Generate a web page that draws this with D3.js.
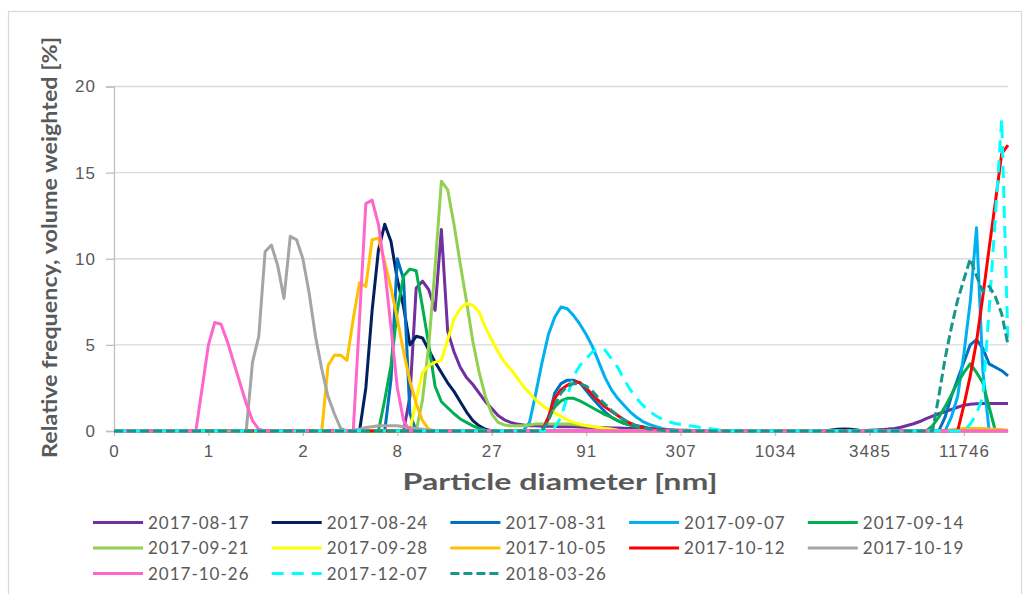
<!DOCTYPE html>
<html><head><meta charset="utf-8">
<script src="https://cdn.jsdelivr.net/npm/d3@7"></script>
<style>
html,body{margin:0;padding:0;background:#fff;}
svg{display:block;font-family:Lato,"Open Sans",sans-serif;}
</style></head><body>
<svg id="chart" width="1030" height="594"></svg>
<script>
// ---------- data ----------
const tickLabels = ["0","1","2","8","27","91","307","1034","3485","11746"];
const binCount = 143;      // size classes (log spaced)
const labelEvery = 15;     // a label every 15 size classes
const yTicks = [0,5,10,15,20];

const seriesNames = ["2017-08-17","2017-08-24","2017-08-31","2017-09-07","2017-09-14",
  "2017-09-21","2017-09-28","2017-10-05","2017-10-12","2017-10-19",
  "2017-10-26","2017-12-07","2018-03-26"];

// each series: [startBin, values...] segments, all other bins are 0
const s20170817 = [[46,[0,2.0,8.3,8.7,8.2,7.0,11.7,5.8,4.6,3.7,3.1,2.7,2.2,1.7,1.3,0.9,0.65,0.5,0.4,0.35,0.3,0.3,0.28,0.27,0.26,0.25,0.25,0.24,0.23,0.22,0.21,0.2,0.19,0.18,0.17,0.16,0.15,0.14,0.12,0.1,0.09,0.08,0.07,0.06,0.05,0.04,0.03,0.02,0.01,0]],
  [117,[0,0.01,0.02,0.04,0.06,0.08,0.11,0.15,0.22,0.32,0.42,0.55,0.72,0.86,1.0,1.12,1.25,1.38,1.5,1.55,1.58,1.6,1.6,1.6,1.6,1.6]]];
const s20170824 = [[39,[0,2.5,7.0,10.5,12.0,11.0,8.8,7.2,5.0,5.5,5.4,4.7,4.0,3.4,2.8,2.3,1.7,1.1,0.6,0.3,0.1,0]],
  [113,[0,0.06,0.1,0.12,0.1,0.06,0]]];
const s20170831 = [[43,[0,3.0,10.0,8.8,1.0,0]],
  [68,[0,0.7,2.2,2.75,2.95,2.95,2.8,2.35,1.9,1.5,1.1,0.8,0.6,0.45,0.35,0.3,0.25,0.15,0.1,0.05,0]],
  [131,[0,0.8,2.0,3.0,4.0,5.0,5.3,4.8,3.9,3.7,3.5,3.2]]];
const s20170907 = [[65,[0,0.5,2.2,4.0,5.6,6.6,7.2,7.1,6.7,6.2,5.6,4.9,4.0,3.1,2.4,1.9,1.5,1.1,0.8,0.55,0.38,0.26,0.15,0.08,0.03,0]],
  [132,[0,0.8,2.0,4.5,7.5,11.8,3.5,0]]];
const s20170914 = [[42,[0,1.8,3.8,7.0,9.0,9.4,9.3,7.2,5.0,2.6,1.7,1.35,1.0,0.7,0.5,0.3,0.15,0.05,0]],
  [68,[0,0.8,1.4,1.75,1.9,1.9,1.75,1.55,1.35,1.15,0.95,0.8,0.6,0.45,0.35,0.25,0.15,0.1,0.05,0]],
  [129,[0,0.3,0.8,1.4,2.1,2.8,3.4,3.9,3.4,2.8,1.4,0]]];
const s20170921 = [[48,[0,1.8,5.0,9.5,14.5,14.0,12.0,9.7,7.5,5.2,3.4,2.0,1.0,0.5,0.35,0.3,0.3,0.3,0.35,0.4,0.4,0.4,0.4,0.4,0.4,0.38,0.35,0.3,0.25,0.2,0.15,0.1,0.05,0]]];
const s20170928 = [[47,[0,1.8,3.4,3.8,4.0,4.1,5.3,6.5,7.1,7.4,7.3,6.9,6.0,5.3,4.6,4.0,3.6,3.1,2.6,2.2,1.8,1.5,1.25,1.05,0.85,0.65,0.5,0.4,0.32,0.26,0.2,0.15,0.1,0.05,0]]];
const s20171005 = [[33,[0,3.8,4.4,4.4,4.1,6.5,8.6,8.4,11.1,11.2,9.8,8.3,6.5,4.6,2.9,1.6,0.6,0.1,0]],
  [132,[0,0.08,0.12,0.15,0.15,0.15,0.15,0.12,0.1,0.08,0.05]]];
const s20171012 = [[68,[0,0.8,1.9,2.4,2.65,2.85,2.8,2.5,2.1,1.75,1.4,1.15,0.9,0.65,0.45,0.3,0.2,0.15,0.1,0.08,0.05,0.03,0]],
  [134,[0,1.5,3.2,5.2,7.8,10.6,13.3,16.1,16.6]]];
const s20171019 = [[21,[0,4.0,5.5,10.4,10.8,9.6,7.7,11.3,11.1,10.0,8.0,5.5,3.6,2.0,1.0,0.15,0,0.05,0.1,0.2,0.25,0.3,0.3,0.3,0.3,0.25,0.2,0.15,0.1,0.05,0]]];
const s20171026 = [[13,[0,2.5,5.0,6.3,6.2,5.2,4.0,2.8,1.6,0.6,0.1,0]],
  [38,[0,6.5,13.2,13.4,12.0,9.4,6.0,2.5,0.6,0]]];
const s20171207 = [[69,[0,0.2,0.8,2.0,3.2,3.8,4.2,4.6,4.8,4.7,4.2,3.7,3.0,2.4,1.9,1.5,1.15,0.9,0.7,0.55,0.45,0.38,0.32,0.27,0.22,0.17,0.12,0.07,0.03,0]],
  [135,[0,0.4,1.0,2.0,7.0,12.5,18.1,5.0]]];
const s20180326 = [[68,[0,0.6,1.5,2.2,2.6,2.75,2.75,2.6,2.3,1.9,1.55,1.2,0.9,0.65,0.45,0.3,0.2,0.12,0.08,0.04,0]],
  [130,[0,2.0,4.2,6.0,7.6,8.8,10.0,9.0,8.1,8.4,7.8,6.8,5.0]]];

const seriesSegments = [s20170817,s20170824,s20170831,s20170907,s20170914,s20170921,
  s20170928,s20171005,s20171012,s20171019,s20171026,s20171207,s20180326];

// ---------- styles ----------
const seriesColors = ["#7030A0","#002060","#0070C0","#00B0F0","#00B050","#92D050",
  "#FFFF00","#FFC000","#FF0000","#A5A5A5","#FF66CC","#00FFFF","#17968A"];
const seriesDash = [null,null,null,null,null,null,null,null,null,null,null,"12,8","9,4"];

function expand(segments){
  const arr = new Array(binCount).fill(0);
  segments.forEach(([start, vals]) => vals.forEach((v,k) => { arr[start+k] = v; }));
  return arr;
}
const series = seriesSegments.map(expand);

const svg = d3.select("#chart");
const textColor = "#595959";

// outer frame
svg.append("rect").attr("x",8.5).attr("y",11.5).attr("width",1013).attr("height",600)
  .attr("fill","#fff").attr("stroke","#d9d9d9").attr("stroke-width",1.2);

const x = d3.scaleLinear().domain([0, binCount-1]).range([114, 1008]);
const y = d3.scaleLinear().domain([0, 20]).range([431, 86.5]);

// gridlines
svg.append("g").selectAll("line").data(yTicks.filter(d=>d>0)).join("line")
  .attr("x1",x(0)).attr("x2",x(binCount-1))
  .attr("y1",d=>y(d)).attr("y2",d=>y(d))
  .attr("stroke","#d9d9d9").attr("stroke-width",1.3);

// y axis
const yAxis = svg.append("g").attr("transform",`translate(${x(0)},0)`)
  .call(d3.axisLeft(y).tickValues(yTicks).tickSize(8).tickPadding(10));
yAxis.select(".domain").attr("stroke","#bfbfbf").attr("stroke-width",1.3);
yAxis.selectAll(".tick line").attr("stroke","#bfbfbf").attr("stroke-width",1.3);
yAxis.selectAll(".tick text").attr("fill",textColor).style("font-size","17px").style("letter-spacing","1px");

// x axis
const xAxis = svg.append("g").attr("transform",`translate(0,${y(0)})`)
  .call(d3.axisBottom(x).tickValues(d3.range(0, binCount, labelEvery))
    .tickFormat((d,i)=>tickLabels[i]).tickSize(5).tickSizeOuter(0).tickPadding(9));
xAxis.select(".domain").attr("stroke","#bfbfbf").attr("stroke-width",1.3);
xAxis.selectAll(".tick line").attr("stroke","#bfbfbf").attr("stroke-width",1.3);
xAxis.selectAll(".tick text").attr("fill",textColor).style("font-size","17px").style("letter-spacing","1px");

// series lines
const line = d3.line().x((d,i)=>x(i)).y(d=>y(d));
svg.append("g").selectAll("path").data(series).join("path")
  .attr("d", line)
  .attr("fill","none")
  .attr("stroke",(d,i)=>seriesColors[i])
  .attr("stroke-width",3)
  .attr("stroke-linejoin","round")
  .attr("stroke-dasharray",(d,i)=>seriesDash[i]);

// axis titles
svg.append("text").attr("x",560).attr("y",490).attr("text-anchor","middle")
  .attr("fill",textColor).style("font-size","23px").style("font-weight","bold")
  .attr("textLength",315).attr("lengthAdjust","spacingAndGlyphs")
  .text("Particle diameter [nm]");
svg.append("text").attr("transform","translate(57,247.5) rotate(-90)").attr("text-anchor","middle")
  .attr("fill",textColor).style("font-size","21px").style("font-weight","bold")
  .attr("textLength",421).attr("lengthAdjust","spacingAndGlyphs")
  .text("Relative frequency, volume weighted [%]");

// legend
const legend = svg.append("g");
seriesNames.forEach((name,i)=>{
  const col = i % 5, row = Math.floor(i/5);
  const lx = 93 + col*178.7, ly = 522.5 + row*25.5;
  const g = legend.append("g");
  g.append("line").attr("x1",lx).attr("x2",lx+50).attr("y1",ly).attr("y2",ly)
    .attr("stroke",seriesColors[i]).attr("stroke-width",3)
    .attr("stroke-dasharray",seriesDash[i]);
  g.append("text").attr("x",lx+55).attr("y",ly+6).attr("fill",textColor)
    .style("font-size","17px").style("letter-spacing","1px").text(name);
});
</script>
</body></html>
